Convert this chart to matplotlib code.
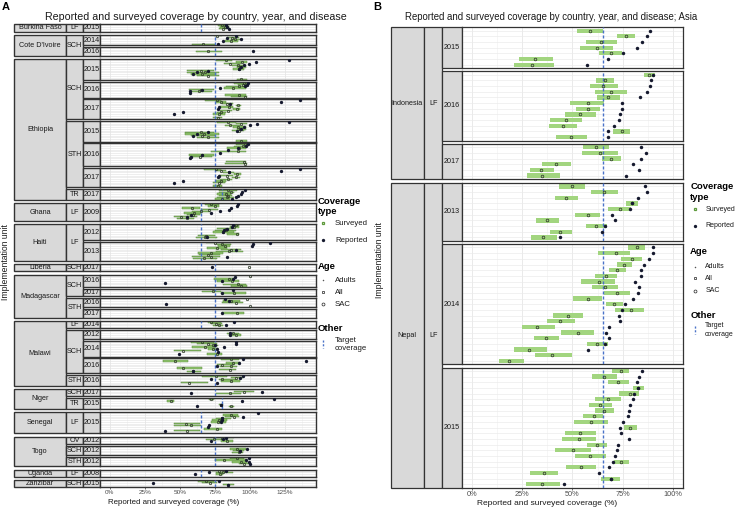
import numpy as np
import matplotlib
matplotlib.use('Agg')
import matplotlib.pyplot as plt
from matplotlib.patches import Rectangle

plt.rcParams['font.family'] = ['Liberation Sans', 'DejaVu Sans']

# ── Data: one row = (surveyed, survey CI low, survey CI high, reported) ──
# Panel A
bf_lf_2015 = [(80, 77, 83, 83), (82, 79, 85, 84), (81, 78, 84, 85), (None, None, None, None)]
ci_sch_2014 = [(76.8, 74.4, 80.3, 89.9), (87, 84, 92, 84), (89.4, 86.3, 93, 93.5),
               (86.3, 82, 91.6, 80.8), (None, None, None, None), (66.5, 58.9, 75.1, 77.2)]
ci_sch_2016 = [(None, None, None, None), (None, None, None, None), (70, 61.5, 80, 102.5),
               (None, None, None, None), (None, None, None, None)]
et_sch_2015 = [(82.7, 76, 87.5, 128), (94.6, 89.9, 97.7, 104.4), (85.8, 81.5, 93.5, 99.7),
               (91.5, 87.5, 97, 95.8), (93, 90.5, 97, 94), (92, 88, 96, 92),
               (64.8, 54.8, 74.4, 70.3), (67.9, 54.8, 78, 62.4), (66, 58, 76, 59.3),
               (70, 62, 78, None), (None, None, None, None), (93.9, 90.6, 98.2, None)]
et_sch_2016 = [(95.8, 88.7, 98.2, 98.7), (95.4, 91.5, 98.2, 97.7), (92.3, 82.7, 97, 96.3),
               (88, 81.5, 97, 78.7), (64.8, 56.5, 74.4, 66), (63.9, 57.2, 73.2, 57.6),
               (None, None, None, 56.9), (92.3, 82, 97, None), (96.3, 86.3, 98.2, None)]
et_sch_2017 = [(76.3, 67.7, 79.1, 136), (79.1, 75.5, 82.7, 122), (84, 80, 88, 85.8),
               (91.5, 89.9, 93.5, None), (85, 79, 88, 78), (90.6, 88, 93, 77.2),
               (84.4, 79, 87.5, None), (79.1, 76.3, 82.7, 52), (78, 74, 82, 45.7),
               (None, None, None, None), (77, 74, 80, None)]
et_sth_2015 = [(84.4, 76.7, 89.9, 128), (93.9, 89.9, 98.2, 104.9), (86, 82, 93, 100.1),
               (91.5, 88, 97, 95.8), (93, 90.5, 97, 94), (92, 87, 96, 91),
               (64.8, 54, 74.4, 70.3), (67.2, 54, 78, 62.4), (66, 58, 75, 59.5),
               (70, 62, 78, None), (None, None, None, None), (93.9, 89.9, 98.2, None)]
et_sth_2016 = [(96.3, 89.9, 99.4, 98.7), (95.4, 88.7, 98.2, 97.2), (92.3, 83.9, 97, 91.5),
               (None, None, None, 84.4), (91.5, 72, 97, None), (None, None, None, 78.4),
               (66, 56.5, 74.4, 66), (64.3, 57.6, 73.2, 58.1), (None, None, None, 57),
               (None, None, None, None), (95.8, 82.7, 97, None), (96.3, 82, 98.2, None),
               (None, None, None, None)]
et_sth_2017 = [(75.5, 67.2, 79.1, 136), (79.1, 75.5, 82.7, 122), (85, 81, 89, 85.3),
               (91, 89, 93.5, None), (84, 78, 88, 78), (90, 87.5, 93, 77),
               (84.4, 79, 87.5, None), (79.1, 76, 82.7, 52), (78, 74, 82, 45.7),
               (None, None, None, None), (77, 74, 80, None)]
et_tr_2017 = [(84.4, 78, 91, 96.3), (86.3, 78, 88.7, 94.6), (82.7, 76.3, 86.3, 93.4),
              (84.4, 78, 87.5, 91.5), (83.9, 76.7, 88.7, 89.9), (80, 75, 86, 87)]
gh_lf_2009 = [(72, 67.7, 78, 91.6), (75, 70, 78, 90.6), (58.9, 51.7, 64.3, 86.8),
              (70.6, 64.8, 77.2, 85.4), (65, 58.9, 71.5, 78.7), (60, 53, 65, 72.5),
              (59.5, 55, 64.3, 57.7), (50.5, 45.7, 62.4, 55.3), (55, 48, 60, None),
              (None, None, None, None)]
ha_lf_2012 = [(90, 88, 92.3, 88), (89, 86, 92, 87.5), (82.7, 76.3, 87.5, 83.9),
              (83, 75, 90, 81.5), (81, 74, 89, 80.8), (90.6, 83.9, 92.3, None),
              (69, 63, 75, None), (67.7, 61.2, 76.8, 69.6), (None, None, None, None)]
ha_lf_2013 = [(75, 68.4, 86.3, 114.5), (80, 76.3, 86.3, 102.3), (82, 77, 86, 101.8),
              (76.8, 69.1, 83.4, None), (86.3, 79.1, 93.4, 89.9), (85, 76, 95, None),
              (72, 62.9, 81, None), (70, 64, 79, None), (72.5, 59, 79, 83.9),
              (67.2, 59.6, 76.8, None), (None, None, None, None)]
li_sch_2017 = [(None, None, None, None), (99.4, None, None, 72.7),
               (None, None, None, None), (None, None, None, None)]
ma_sch_2016 = [(100, None, None, None), (None, None, None, 89.2), (85.1, 74.4, 88.7, 88),
               (87, 76.8, 92.3, 80.3), (None, None, None, 39.7), (91.5, 81, 97, None),
               (93.4, 86.3, 97.8, None)]
ma_sch_2017 = [(None, None, None, 88), (73.7, 66, 79.1, None),
               (88.7, 79.1, 97.5, 80.3), (None, None, None, None)]
ma_sth_2016 = [(98, None, None, 82), (86.3, 81, 93, 85), (89.9, 80, 95, None),
               (None, None, None, 39.8), (100, None, None, None)]
ma_sth_2017 = [(None, None, None, None), (None, None, None, None), (90.6, 80.3, 95.9, 80.3),
               (None, None, None, None), (None, None, None, None)]
mw_lf_2014 = [(72, 70.1, 79.1, 88.7), (76, 72.5, 80, None),
              (78, 74, 81, 83.2), (None, None, None, None)]
mw_sch_2012 = [(None, None, None, None), (88, 84, 92, 86), (89.9, 85.4, 93.9, 85.8),
               (None, None, None, None), (None, None, None, None)]
mw_sch_2014 = [(66, 58.1, 74.4, 89.9), (70.3, 62.4, 76.8, 89.9), (74, 71, 77, 75.1),
               (67.7, 58.9, 75, 81.5), (74, 70, 77.5, 76.3), (52.1, 45.7, 64.8, None),
               (None, None, None, 77), (76.3, 69.6, 80.3, 49.3), (None, None, None, None)]
mw_sch_2016 = [(86.3, 79.1, 92.3, 95.1), (46.9, 37.9, 55.8, 140), (88, 83, 93, 92.3),
               (80, 76.3, 89, None), (86.3, 79, 91, 76.8), (52.4, 48.1, 66, None),
               (86, 78, 90, None), (59.6, 55.3, 64.8, 59.6)]
mw_sth_2016 = [(75.6, 66, 83.9, 95.1), (90, 86.3, 95, 93), (79.9, 78, 90, 72),
               (86.3, 79.1, 93, None), (56.5, 50.5, 70.1, 76.3), (None, None, None, None)]
ni_sch_2017 = [(None, None, None, None), (95.9, 88.7, 103, 108.5),
               (85.8, 75.6, 93.4, 58.1), (None, None, None, None)]
ni_tr_2015 = [(72.5, 70.8, 74.4, 116.9), (43.8, 40.9, 45.7, 94.6), (None, None, None, None),
              (79.1, 78, 81, 79.1), (86.3, 85.1, 88.7, 62.4), (None, None, None, None)]
se_lf_2015 = [(None, None, None, 106.1), (86.3, 81, 91.6, None), (88.7, 82, 92, 95.1),
              (80.3, 75.6, 86.3, 80), (78, 73, 84, 80.3), (77, 72, 83, 79.5),
              (54.1, 45.7, 64.1, None), (57.7, 45.7, 65, 70.8), (None, None, None, 70.3),
              (76.8, 67.2, 80.3, None), (54.8, 45.7, 64.1, 39.3), (None, None, None, None)]
to_ov_2012 = [(80.3, 75, 88.7, 83.2), (74.4, 68.4, 80.3, 81),
              (83.9, 79.1, 88, 72.5), (None, None, None, None)]
to_sch_2012 = [(None, None, None, None), (91.1, 85.8, 97, 98.2), (93, 88, 96, 93),
               (92, 87, 95, None), (None, None, None, None)]
to_sth_2012 = [(90.6, 85.8, 95.9, 99.4), (81.5, 75, 97, 97), (93.4, 87, 98, 99.4),
               (96, 92, 99.4, 100), (None, None, None, None)]
ug_lf_2008 = [(78, 73.2, 84.6, 82.7), (81, 75.6, 88.2, 70.8),
              (79, 76, 81, 60.5), (None, None, None, None)]
za_sch_2015 = [(68.4, 62.9, 74.4, 78), (71.5, 66, 76.8, 30.7),
               (84.4, 81, 88.7, 84.6), (None, None, None, None)]

# Panel B
id_lf_2015 = [(58.8, 52.3, 65.0, 88.5), (76.6, 72.3, 81.1, 87.3), (64.3, 56.8, 72.0, 84.5),
              (62.1, 53.9, 70.0, 81.9), (69.0, 63.3, 74.5, 75.3), (31.1, 23.6, 40.5, 67.5),
              (29.7, 20.9, 40.7, 57.3)]
id_lf_2016 = [(88.1, 85.5, 90.9, 90.1), (66.2, 61.6, 70.8, 89.3), (65.4, 58.8, 72.8, 88.5),
              (69.4, 61.1, 76.9, 87.3), (67.9, 62.3, 73.5, 83.5), (57.5, 48.8, 65.9, 74.6),
              (57.5, 51.6, 63.8, 74.4), (53.5, 46.1, 61.6, 73.8), (46.6, 39.0, 54.7, 73.3),
              (45.1, 38.5, 52.2, 70.5), (74.5, 70.2, 78.7, 67.5), (49.1, 41.7, 57.3, 67.5)]
id_lf_2017 = [(61.9, 55.4, 68.4, 83.9), (63.9, 54.9, 72.7, 86.8), (69.4, 64.9, 74.1, 83.9),
              (41.7, 34.8, 49.3, 80.1), (34.3, 28.7, 40.9, 82.9), (34.9, 27.5, 43.8, 76.8)]
np_lf_2013 = [(49.6, 43.5, 56.3, 86.0), (65.9, 59.0, 72.7, 87.0), (46.8, 41.5, 52.7, 82.5),
              (79.4, 76.6, 82.4, 79.6), (73.5, 67.9, 78.9, 78.4), (57.5, 51.1, 63.8, 69.7),
              (37.2, 32.0, 43.5, 71.3), (61.9, 56.5, 67.4, 66.4), (43.8, 38.6, 49.8, 64.9),
              (35.3, 29.2, 42.5, 44.0)]
np_lf_2014 = [(82.2, 77.8, 86.2, 90.3), (71.5, 62.9, 78.7, 90.1), (79.7, 74.1, 84.5, 88.0),
              (75.8, 72.2, 79.4, 85.5), (72.2, 68.0, 76.6, 84.2), (66.7, 61.3, 72.2, 84.0),
              (63.1, 54.4, 71.2, 81.1), (66.2, 59.8, 72.7, 83.2), (72.2, 65.6, 78.6, 82.4),
              (57.5, 50.1, 64.9, 80.2), (70.8, 66.7, 75.3, 76.1), (79.1, 71.3, 85.5, 74.6),
              (47.8, 40.5, 55.2, 73.1), (44.0, 37.4, 51.1, 73.6), (32.1, 24.7, 41.2, 68.2),
              (52.6, 44.5, 60.8, 66.6), (36.7, 31.0, 43.3, 68.4), (62.4, 57.0, 67.9, 66.0),
              (28.3, 21.1, 37.2, 57.8), (40.0, 31.1, 49.9, None), (18.6, 13.3, 25.7, None)]
np_lf_2015 = [(74.0, 69.9, 78.2, 84.7), (65.9, 59.6, 72.0, 83.2), (72.8, 67.7, 77.9, 81.9),
              (82.7, 80.1, 85.5, 82.7), (78.4, 73.1, 82.9, 80.7), (67.9, 61.0, 74.3, 80.1),
              (63.8, 58.0, 69.5, 78.4), (65.6, 61.0, 70.5, 77.9), (60.5, 55.2, 65.4, 77.8),
              (59.3, 50.9, 67.5, 75.0), (78.7, 75.8, 82.2, 73.6), (53.5, 46.1, 61.6, 74.3),
              (53.0, 44.8, 61.6, 77.9), (62.3, 57.3, 67.2, 72.8), (50.1, 41.5, 59.3, 72.2),
              (58.8, 51.4, 66.6, 71.0), (74.3, 70.5, 78.1, 70.3), (54.2, 47.0, 61.6, 68.4),
              (35.6, 29.0, 42.8, 63.3), (69.0, 64.4, 73.5, 69.0), (34.6, 26.7, 43.8, 45.6)]

facets_a = [
    ('Burkina Faso', 'LF', '2015', bf_lf_2015),
    ("Cote D'Ivoire", 'SCH', '2014', ci_sch_2014),
    ("Cote D'Ivoire", 'SCH', '2016', ci_sch_2016),
    ('Ethiopia', 'SCH', '2015', et_sch_2015),
    ('Ethiopia', 'SCH', '2016', et_sch_2016),
    ('Ethiopia', 'SCH', '2017', et_sch_2017),
    ('Ethiopia', 'STH', '2015', et_sth_2015),
    ('Ethiopia', 'STH', '2016', et_sth_2016),
    ('Ethiopia', 'STH', '2017', et_sth_2017),
    ('Ethiopia', 'TR', '2017', et_tr_2017),
    ('Ghana', 'LF', '2009', gh_lf_2009),
    ('Haiti', 'LF', '2012', ha_lf_2012),
    ('Haiti', 'LF', '2013', ha_lf_2013),
    ('Liberia', 'SCH', '2017', li_sch_2017),
    ('Madagascar', 'SCH', '2016', ma_sch_2016),
    ('Madagascar', 'SCH', '2017', ma_sch_2017),
    ('Madagascar', 'STH', '2016', ma_sth_2016),
    ('Madagascar', 'STH', '2017', ma_sth_2017),
    ('Malawi', 'LF', '2014', mw_lf_2014),
    ('Malawi', 'SCH', '2012', mw_sch_2012),
    ('Malawi', 'SCH', '2014', mw_sch_2014),
    ('Malawi', 'SCH', '2016', mw_sch_2016),
    ('Malawi', 'STH', '2016', mw_sth_2016),
    ('Niger', 'SCH', '2017', ni_sch_2017),
    ('Niger', 'TR', '2015', ni_tr_2015),
    ('Senegal', 'LF', '2015', se_lf_2015),
    ('Togo', 'OV', '2012', to_ov_2012),
    ('Togo', 'SCH', '2012', to_sch_2012),
    ('Togo', 'STH', '2012', to_sth_2012),
    ('Uganda', 'LF', '2008', ug_lf_2008),
    ('Zanzibar', 'SCH', '2015', za_sch_2015),
]
facets_b = [
    ('Indonesia', 'LF', '2015', id_lf_2015),
    ('Indonesia', 'LF', '2016', id_lf_2016),
    ('Indonesia', 'LF', '2017', id_lf_2017),
    ('Nepal', 'LF', '2013', np_lf_2013),
    ('Nepal', 'LF', '2014', np_lf_2014),
    ('Nepal', 'LF', '2015', np_lf_2015),
]
targets = {'LF': 65, 'SCH': 75, 'STH': 75, 'TR': 80, 'OV': 75}

# ── Styling ─────────────────────────────────────────────────────────
W, H = 736, 508
STRIP_FILL = '#D9D9D9'
DARK = '#333333'
GREEN = '#A2D57F'
NAVY = '#15192E'
BLUE = '#4A72C8'

fig = plt.figure(figsize=(W / 100, H / 100), dpi=100)
fig.patch.set_facecolor('white')


def frac(x0, y0, x1, y1):
    return [x0 / W, 1 - y1 / H, (x1 - x0) / W, (y1 - y0) / H]


def layout(facets, top, bottom, gaps):
    gap_list = []
    for prev, cur in zip(facets[:-1], facets[1:]):
        if cur[0] != prev[0]:
            gap_list.append(gaps[0])
        elif cur[1] != prev[1]:
            gap_list.append(gaps[1])
        else:
            gap_list.append(gaps[2])
    units = sum(len(f[3]) + 0.2 for f in facets)
    u = (bottom - top - sum(gap_list)) / units
    spans, y = [], top
    for i, f in enumerate(facets):
        if i:
            y += gap_list[i - 1]
        h = (len(f[3]) + 0.2) * u
        spans.append((y, y + h))
        y += h
    return spans


def draw_block(ov, facets, spans, cols, s):
    cx0, dx0, yx0, px0, px1 = cols
    for k, ((c, d, yr, rows), (y0, y1)) in enumerate(zip(facets, spans)):
        ax = fig.add_axes(frac(px0, y0, px1, y1))
        arr = np.array([[np.nan if v is None else v for v in r] for r in rows], float)
        n = len(rows)
        idx = np.arange(n)
        ax.set_xlim(s['xlim'])
        ax.set_ylim(n - 0.4, -0.6)
        ax.set_axisbelow(True)
        ax.set_yticks(idx)
        ax.set_xticks(s['breaks'])
        ax.set_xticks(np.arange(12.5, s['xlim'][1], 25), minor=True)
        ax.grid(axis='y', color=s['hgrid_c'], lw=s['hgrid'])
        ax.grid(axis='x', which='major', color='#E6E6E6', lw=0.6)
        ax.grid(axis='x', which='minor', color='#F0F0F0', lw=0.4)
        ok = ~np.isnan(arr[:, 1])
        ax.barh(idx[ok], arr[ok, 2] - arr[ok, 1], left=arr[ok, 1], height=s['bh'],
                color=s['bar'], edgecolor=s['bar_edge'], lw=s['bar_lw'], zorder=2)
        ax.axvline(targets[d], color=BLUE, lw=1.0, ls=(0, (2.2, 1.4)), zorder=3)
        ax.plot(arr[:, 0], idx, 'o', ls='none', mfc='none', mec='#2F3A2A',
                ms=s['ms_s'], mew=0.55, zorder=4)
        ax.plot(arr[:, 3], idx, 'o', ls='none', color=NAVY, ms=s['ms_r'],
                mew=0, zorder=5)
        for sp in ax.spines.values():
            sp.set_color(DARK)
            sp.set_linewidth(s['border'])
        ax.tick_params(axis='y', left=False, labelleft=False)
        ax.tick_params(axis='x', which='minor', bottom=False)
        if k == len(facets) - 1:
            ax.xaxis.set_major_formatter(lambda v, p: f'{v:.0f}%')
            ax.tick_params(axis='x', length=1.5, width=0.5, color=DARK, pad=0.8,
                           labelsize=s['tick_fs'], labelcolor='#4D4D4D')
        else:
            ax.tick_params(axis='x', bottom=False, labelbottom=False)

    def box(x0, x1, y0, y1, label, fs):
        ov.add_patch(Rectangle((x0, y0), x1 - x0, y1 - y0, fc=STRIP_FILL, ec=DARK,
                               lw=s['border']))
        ov.text((x0 + x1) / 2, (y0 + y1) / 2, label, ha='center', va='center',
                fontsize=fs, color='#1A1A1A')

    # nested strips: country, disease, year
    for level, (x0, x1) in enumerate([(cx0, dx0), (dx0, yx0)]):
        i = 0
        while i < len(facets):
            j = i
            while j + 1 < len(facets) and facets[j + 1][:level + 1] == facets[i][:level + 1]:
                j += 1
            box(x0, x1, spans[i][0], spans[j][1], facets[i][level], s['strip_fs'])
            i = j + 1
    for f, (y0, y1) in zip(facets, spans):
        box(yx0, px0, y0, y1, f[2], s['strip_fs'])


def draw_legend(ov, xt, xk, xx, ys, tfs, efs):
    ov.text(xt, ys[0], 'Coverage', fontsize=tfs, fontweight='bold', va='center')
    ov.text(xt, ys[1], 'type', fontsize=tfs, fontweight='bold', va='center')
    ov.plot([xk], [ys[2]], 's', ms=2.0, mfc='none', mec='#5E9A3C', mew=0.9)
    ov.text(xx, ys[2], 'Surveyed', fontsize=efs, va='center', color='#1A1A1A')
    ov.plot([xk], [ys[3]], 'o', ms=2.4, color=NAVY, mew=0)
    ov.text(xx, ys[3], 'Reported', fontsize=efs, va='center', color='#1A1A1A')
    ov.text(xt, ys[4], 'Age', fontsize=tfs, fontweight='bold', va='center')
    ov.plot([xk], [ys[5]], 'o', ms=1.1, color='#555555', mew=0)
    ov.text(xx, ys[5], 'Adults', fontsize=efs, va='center', color='#1A1A1A')
    ov.plot([xk], [ys[6]], 's', ms=2.0, mfc='none', mec='#333333', mew=0.55)
    ov.text(xx, ys[6], 'All', fontsize=efs, va='center', color='#1A1A1A')
    ov.plot([xk], [ys[7]], 'o', ms=2.1, mfc='none', mec='#333333', mew=0.55)
    ov.text(xx, ys[7], 'SAC', fontsize=efs, va='center', color='#1A1A1A')
    ov.text(xt, ys[8], 'Other', fontsize=tfs, fontweight='bold', va='center')
    ym = (ys[9] + ys[10]) / 2
    ov.plot([xk, xk], [ym - 4, ym + 4], color=BLUE, lw=1.0, ls=(0, (1.5, 1.2)))
    ov.text(xx, ys[9], 'Target', fontsize=efs, va='center', color='#1A1A1A')
    ov.text(xx, ys[10], 'coverage', fontsize=efs, va='center', color='#1A1A1A')


style_a = dict(xlim=(-7, 147), breaks=[0, 25, 50, 75, 100, 125], hgrid=0.45,
               hgrid_c='#E4E4E4', bh=0.8, bar='#93C76F', bar_edge='#5A8A40',
               bar_lw=0.35, ms_s=1.7, ms_r=2.4, border=1.0, tick_fs=4.6, strip_fs=5.2)
style_b = dict(xlim=(-5, 105), breaks=[0, 25, 50, 75, 100], hgrid=0.5,
               hgrid_c='#EBEBEB', bh=0.75, bar=GREEN, bar_edge='none', bar_lw=0,
               ms_s=1.9, ms_r=2.5, border=0.9, tick_fs=5.3, strip_fs=5.2)

spans_a = layout(facets_a, 24.3, 487.3, (3.2, 2.3, 1.5))
spans_b = layout(facets_b, 27.3, 487.7, (4.0, 3.3, 3.3))

ov = fig.add_axes([0, 0, 1, 1])
ov.set_axis_off()
ov.set_xlim(0, W)
ov.set_ylim(H, 0)

draw_block(ov, facets_a, spans_a, (14, 66, 83, 100, 315.7), style_a)
draw_block(ov, facets_b, spans_b, (390.7, 424, 442.3, 462, 683), style_b)

# titles, labels
ov.text(2, 7, 'A', fontsize=8, fontweight='bold', va='center')
ov.text(373, 7, 'B', fontsize=8, fontweight='bold', va='center')
ov.text(196, 17.3, 'Reported and surveyed coverage by country, year, and disease',
        fontsize=7.7, ha='center', va='center', color='#1A1A1A')
ov.text(551.5, 17.3, 'Reported and surveyed coverage by country, year, and disease; Asia',
        fontsize=6.9, ha='center', va='center', color='#1A1A1A')
ov.text(174, 502.3, 'Reported and surveyed coverage (%)', fontsize=5.7,
        ha='center', va='center', color='#1A1A1A')
ov.text(547, 503.7, 'Reported and surveyed coverage (%)', fontsize=6.0,
        ha='center', va='center', color='#1A1A1A')
ov.text(6, 261.7, 'Implementation unit', fontsize=6.2, rotation=90,
        ha='center', va='center', color='#1A1A1A')
ov.text(379, 260, 'Implementation unit', fontsize=6.2, rotation=90,
        ha='center', va='center', color='#1A1A1A')

draw_legend(ov, 318, 323, 335,
            [201.7, 212, 223.3, 240, 266.7, 280, 292.3, 304.3, 328.3, 340, 348.3],
            6.8, 5.6)
draw_legend(ov, 690.2, 694.5, 705.2,
            [186.7, 197.7, 209.3, 225.7, 252, 266.7, 278.3, 290.7, 315, 325.7, 334.3],
            6.8, 5.0)

fig.savefig('out.png', dpi=100, facecolor='white')
